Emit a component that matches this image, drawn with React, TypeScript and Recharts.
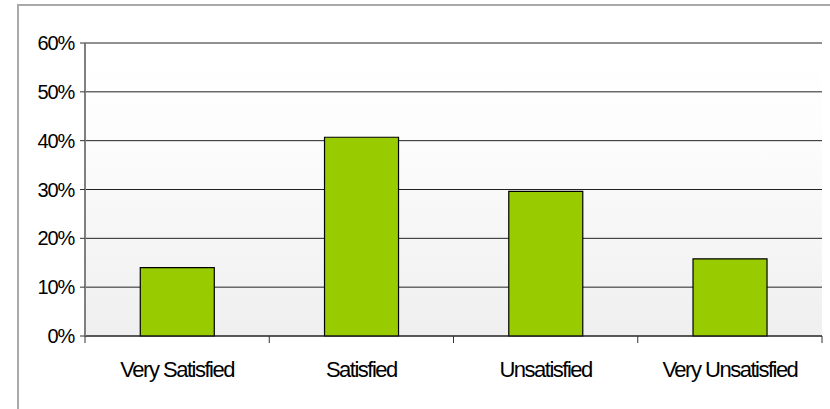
import React from 'react';
import { BarChart, Bar, XAxis, YAxis, CartesianGrid } from 'recharts';

const categories = ['Very Satisfied', 'Satisfied', 'Unsatisfied', 'Very Unsatisfied'];
const values = [14, 40.7, 29.6, 15.8];
const yTicks = [0, 10, 20, 30, 40, 50, 60];

const data = categories.map((c, i) => ({ name: c, value: values[i] }));

const FONT = '"Liberation Sans", Arial, sans-serif';

const XTick = (props: any) => {
  const { x, y, payload, index, visibleTicksCount } = props;
  const off = payload.offset || 0;
  const isLast = index === (visibleTicksCount ?? categories.length) - 1;
  return (
    <g>
      <line x1={x - off} y1={y - 8} x2={x - off} y2={y - 1} stroke="#333" strokeWidth={1} />
      {isLast && (
        <line x1={x + off} y1={y - 8} x2={x + off} y2={y - 1} stroke="#333" strokeWidth={1} />
      )}
      <text x={x} y={y + 33} textAnchor="middle" fontSize={22} fontFamily={FONT} fill="#000" letterSpacing={-1.5}>
        {payload.value}
      </text>
    </g>
  );
};

export default function App() {
  return (
    <div style={{ position: 'absolute', left: 0, top: 0, width: 830, height: 409, background: '#fff', overflow: 'hidden' }}>
      <div style={{ position: 'absolute', left: 17, top: 4, width: 830, height: 420, border: '2px solid #a9a9a9', boxSizing: 'border-box' }} />
      <div style={{ position: 'absolute', left: 0, top: 0 }}>
        <BarChart
          width={830}
          height={409}
          data={data}
          margin={{ top: 43, right: 8, bottom: 33, left: 0 }}
          barCategoryGap="30%"
        >
          <defs>
            <linearGradient id="bgGrad" x1="0" y1="0" x2="0" y2="1">
              <stop offset="0%" stopColor="#ffffff" />
              <stop offset="30%" stopColor="#fdfdfd" />
              <stop offset="100%" stopColor="#efefef" />
            </linearGradient>
          </defs>
          <CartesianGrid vertical={false} stroke="#222" strokeWidth={1} fill="url(#bgGrad)" fillOpacity={1} />
          <XAxis
            dataKey="name"
            height={40}
            axisLine={{ stroke: '#222', strokeWidth: 1 }}
            tickLine={false}
            tick={<XTick />}
            interval={0}
          />
          <YAxis
            width={85}
            domain={[0, 60]}
            ticks={yTicks}
            interval={0}
            tickFormatter={(v: number) => `${v}%`}
            axisLine={{ stroke: '#808080', strokeWidth: 2 }}
            tickLine={{ stroke: '#333' }}
            tickSize={5}
            tickMargin={6}
            tick={{ fontSize: 20, fontFamily: FONT, fill: '#000', letterSpacing: -1.2 }}
          />
          <Bar dataKey="value" fill="#99cc00" stroke="#000" strokeWidth={1.2} isAnimationActive={false} />
        </BarChart>
      </div>
    </div>
  );
}
